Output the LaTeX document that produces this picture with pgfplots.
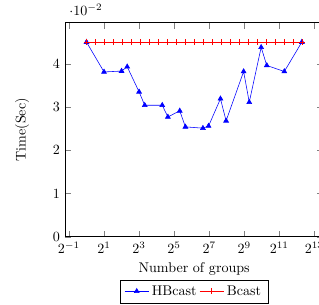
\documentclass[border=0pt]{standalone}
\usepackage{pgfplots}
\pgfplotsset{compat=1.18}
\begin{document}
\begin{tikzpicture}
\begin{axis}[
  scale only axis,
  width=183.7pt, height=152.2pt,
  xmode=log, log basis x=2,
  xtick={0.5,2,8,32,128,512,2048,8192},
  ymin=0,
  xlabel={Number of groups},
  ylabel={Time(Sec)},
  ylabel shift=10pt,
  legend style={at={(0.5,-0.2)},anchor=north},
  legend columns=-1,
]
\addplot[blue, mark=triangle*] coordinates {
(1,0.0450) (2,0.0381) (4,0.0383) (5,0.0393) (8,0.0335) (10,0.0304)
(20,0.0304) (25,0.0277) (40,0.0291) (50,0.0254) (100,0.0251) (125,0.0256)
(200,0.0319) (250,0.0268) (500,0.0382) (625,0.0311) (1000,0.0438)
(1250,0.0396) (2500,0.0382) (5000,0.0450)
};
\addlegendentry{HBcast}
\addplot[red, mark=+] coordinates {
(1,0.045) (1.426,0.045) (2.034,0.045) (2.900,0.045) (4.135,0.045)
(5.897,0.045) (8.409,0.045) (11.99,0.045) (17.10,0.045) (24.38,0.045)
(34.77,0.045) (49.58,0.045) (70.71,0.045) (100.8,0.045) (143.8,0.045)
(205.1,0.045) (292.4,0.045) (417.0,0.045) (594.7,0.045) (848.1,0.045)
(1209,0.045) (1725,0.045) (2460,0.045) (3508,0.045) (5000,0.045)
};
\addlegendentry{Bcast}
\end{axis}
\pgfresetboundingbox
\useasboundingbox (-46.2pt,-48.4pt) rectangle (180.6pt,168.3pt);
\end{tikzpicture}
\end{document}
